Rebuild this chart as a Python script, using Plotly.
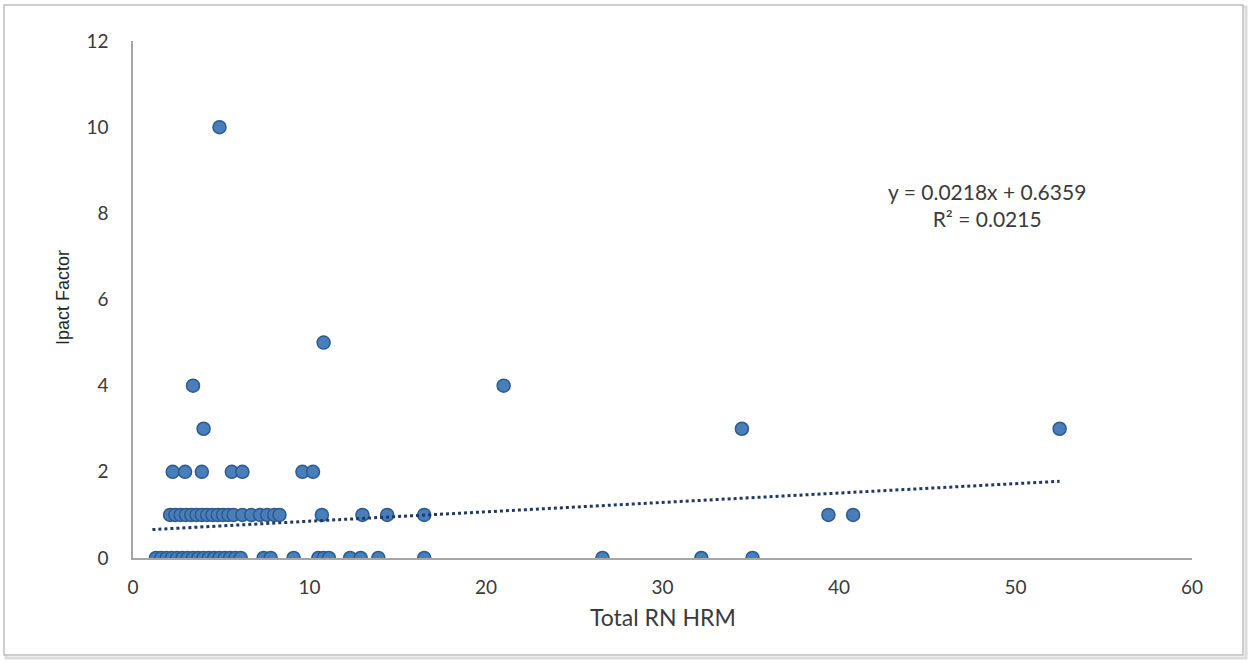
import plotly.graph_objects as go

# ---- data ----
x_row0 = [1.3, 1.6, 1.9, 2.2, 2.5, 2.8, 3.1, 3.4, 3.7, 4.0, 4.3, 4.6, 4.9, 5.2, 5.5, 5.8, 6.1,
          7.4, 7.8, 9.1, 10.5, 10.8, 11.1, 12.3, 12.9, 13.9, 16.5, 26.6, 32.2, 35.1]
x_row1 = [2.1, 2.4, 2.7, 3.0, 3.3, 3.6, 3.9, 4.2, 4.5, 4.8, 5.1, 5.4, 5.7, 6.2, 6.7, 7.2, 7.6, 8.0, 8.3,
          10.7, 13.0, 14.4, 16.5, 39.4, 40.8]
x_row2 = [2.25, 2.95, 3.9, 5.6, 6.2, 9.6, 10.2]
x_row3 = [4.0, 34.5, 52.5]
x_row4 = [3.4, 21.0]
x_row5 = [10.8]
x_row10 = [4.9]

xs = x_row0 + x_row1 + x_row2 + x_row3 + x_row4 + x_row5 + x_row10
ys = ([0] * len(x_row0) + [1] * len(x_row1) + [2] * len(x_row2) + [3] * len(x_row3)
      + [4] * len(x_row4) + [5] * len(x_row5) + [10] * len(x_row10))

slope = 0.0218
intercept = 0.6359
r_squared = 0.0215
trend_x = [1.1, 52.5]
trend_y = [slope * v + intercept for v in trend_x]

x_title = "Total RN HRM"
y_title = "Ipact Factor"
x_ticks = [0, 10, 20, 30, 40, 50, 60]
y_ticks = [0, 2, 4, 6, 8, 10, 12]

FONT = "Lato, 'Open Sans', sans-serif"
TXT = "#3a3a3a"

# plot-area geometry (page pixels)
L, R, T, B = 133, 60, 41, 108
W, H = 1252, 666
pw, ph = W - L - R, H - T - B
def px2paper_x(p):
    return (p - L) / pw
def px2paper_y(p):
    return (H - B - p) / ph

fig = go.Figure()
fig.add_trace(go.Scatter(
    x=xs, y=ys, mode="markers",
    marker=dict(size=13, color="#4a7ebb", line=dict(color="#2c5a8f", width=1.5)),
    showlegend=False, hoverinfo="x+y"))
fig.add_trace(go.Scatter(
    x=trend_x, y=trend_y, mode="lines",
    line=dict(color="#1f3864", width=3, dash="dot"),
    showlegend=False, hoverinfo="skip"))

fig.add_annotation(
    x=px2paper_x(987), y=px2paper_y(205), xref="paper", yref="paper",
    text=f"y = {slope}x + {intercept}<br>R² = {r_squared}",
    showarrow=False, align="center", xanchor="center", yanchor="middle",
    font=dict(family=FONT, size=21, color=TXT))

# axis titles
fig.add_annotation(
    x=px2paper_x(663), y=px2paper_y(617), xref="paper", yref="paper",
    text=x_title, showarrow=False, xanchor="center", yanchor="middle",
    font=dict(family=FONT, size=23, color=TXT))
fig.add_annotation(
    x=px2paper_x(63), y=px2paper_y(298), xref="paper", yref="paper",
    text=y_title, showarrow=False, textangle=-90, xanchor="center", yanchor="middle",
    font=dict(family="'Liberation Sans', Arial, sans-serif", size=18, color="#262626"))

# outer chart frame
fig.add_shape(type="rect", xref="paper", yref="paper",
              x0=px2paper_x(6), x1=px2paper_x(1246), y0=px2paper_y(658), y1=px2paper_y(7),
              line=dict(color="#dcdcdc", width=3), layer="below")
fig.add_shape(type="rect", xref="paper", yref="paper",
              x0=px2paper_x(4), x1=px2paper_x(1243), y0=px2paper_y(655), y1=px2paper_y(5),
              line=dict(color="#bfbfbf", width=1.5), fillcolor="white", layer="below")

fig.update_layout(
    width=W, height=H,
    margin=dict(l=L, r=R, t=T, b=B),
    paper_bgcolor="white", plot_bgcolor="white",
    font=dict(family=FONT, size=19, color=TXT),
    xaxis=dict(range=[0, 60], tickvals=x_ticks, showgrid=False, zeroline=False,
               showline=True, linecolor="#a6a6a6", linewidth=1.5,
               ticks="outside", ticklen=11, tickcolor="rgba(0,0,0,0)"),
    yaxis=dict(range=[0, 12], tickvals=y_ticks, showgrid=False, zeroline=False,
               showline=True, linecolor="#a6a6a6", linewidth=1.5,
               ticks="outside", ticklen=19, tickcolor="rgba(0,0,0,0)"),
)

fig.write_html("out.html", config={"displayModeBar": False},
               post_script="document.body.style.margin='0';")
